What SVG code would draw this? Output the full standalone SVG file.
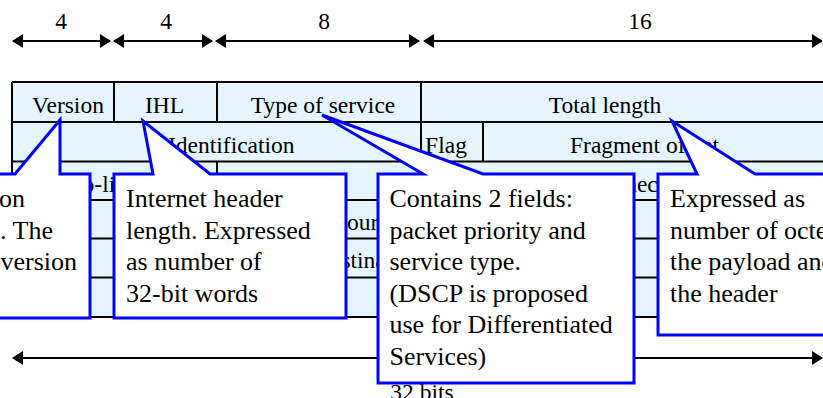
<svg xmlns="http://www.w3.org/2000/svg" width="823" height="398" viewBox="0 0 823 398">
  <defs>
    <marker id="head" viewBox="0 0 11 14" refX="10" refY="7" markerWidth="11" markerHeight="14" markerUnits="userSpaceOnUse" orient="auto-start-reverse">
      <path d="M0,0 L11,7 L0,14 Z" fill="#000"/>
    </marker>
    <style>
      text { font-family: "Liberation Serif", "Times New Roman", serif; fill: #000; }
      .lbl { font-size: 23.5px; }
      .mid { text-anchor: middle; }
      .end { text-anchor: end; }
      .note { font-size: 26px; }
      .dim { stroke: #000; stroke-width: 2; fill: none; marker-start: url(#head); marker-end: url(#head); }
      .cell { fill: #e6f5fd; stroke: none; }
      .grid { stroke: #000; stroke-width: 2; fill: none; }
      .callout { fill: #fff; stroke: #0000ff; stroke-width: 3; stroke-linejoin: miter; }
    </style>
  </defs>

  <!-- bit-width dimension lines -->
  <g id="connectors">
    <line class="dim" x1="13" y1="41" x2="110" y2="41"/>
    <line class="dim" x1="114" y1="41" x2="212" y2="41"/>
    <line class="dim" x1="216" y1="41" x2="419" y2="41"/>
    <line class="dim" x1="424" y1="41" x2="822" y2="41"/>
    <line class="dim" x1="13" y1="358" x2="822" y2="358"/>
  </g>

  <g id="widths">
    <text class="lbl mid" x="61" y="29">4</text>
    <text class="lbl mid" x="166" y="29">4</text>
    <text class="lbl mid" x="324" y="29">8</text>
    <text class="lbl mid" x="640" y="29">16</text>
    <text class="lbl mid" x="422" y="400">32 bits</text>
  </g>

  <!-- IPv4 header layout -->
  <g id="header-table">
    <rect class="cell" x="12" y="82" width="830" height="235"/>
    <path class="grid" d="M12,82 H842 M12,122 H842 M12,161.5 H842 M12,200 H842 M12,238.5 H842 M12,277.5 H842 M12,317 H842 M12,82 V317"/>
    <path class="grid" d="M114,82 V122 M217,82 V122 M421,82 V122 M421,122 V161.5 M483,122 V161.5 M217,161.5 V200 M421,161.5 V200"/>
    <text class="lbl mid" x="68" y="113">Version</text>
    <text class="lbl mid" x="164.5" y="113">IHL</text>
    <text class="lbl mid" x="323" y="113">Type of service</text>
    <text class="lbl mid" x="605" y="113">Total length</text>
    <text class="lbl" x="168" y="153">Identification</text>
    <text class="lbl mid" x="446" y="153">Flag</text>
    <text class="lbl" x="570" y="153">Fragment offset</text>
    <text class="lbl" x="19.5" y="192">Time-to-live</text>
    <text class="lbl" x="541" y="192">Header checksum</text>
    <text class="lbl" x="334" y="230">Source address</text>
    <text class="lbl" x="314" y="268">Destination address</text>
  </g>

  <!-- explanatory callouts -->
  <g id="note-version">
    <path class="callout" d="M-5,174 H15 L60,120 V174 H90 V318 H-5 Z"/>
    <text class="note end" x="25" y="207">on</text>
    <text class="note end" x="53" y="238.5">. The</text>
    <text class="note end" x="77" y="270">version</text>
  </g>

  <g id="note-ihl">
    <path class="callout" d="M114,174 H153 L143,121 L210,174 H346 V318 H114 Z"/>
    <text class="note" x="126" y="207">Internet header</text>
    <text class="note" x="126" y="238.5">length. Expressed</text>
    <text class="note" x="126" y="270">as number of</text>
    <text class="note" x="126" y="301.5">32-bit words</text>
  </g>

  <g id="note-tos">
    <path class="callout" d="M378,174 H423 L322,115 L483,174 H634 V383 H378 Z"/>
    <text class="note" x="389.5" y="207">Contains 2 fields:</text>
    <text class="note" x="389.5" y="238.5">packet priority and</text>
    <text class="note" x="389.5" y="270">service type.</text>
    <text class="note" x="389.5" y="301.5">(DSCP is proposed</text>
    <text class="note" x="389.5" y="333">use for Differentiated</text>
    <text class="note" x="389.5" y="364.5">Services)</text>
  </g>

  <g id="note-length">
    <path class="callout" d="M658,174 H697 L672,121 L755,174 H830 V335 H658 Z"/>
    <text class="note" x="670" y="207">Expressed as</text>
    <text class="note" x="670" y="238.5">number of octets</text>
    <text class="note" x="670" y="270">the payload and</text>
    <text class="note" x="670" y="301.5">the header</text>
  </g>
</svg>
